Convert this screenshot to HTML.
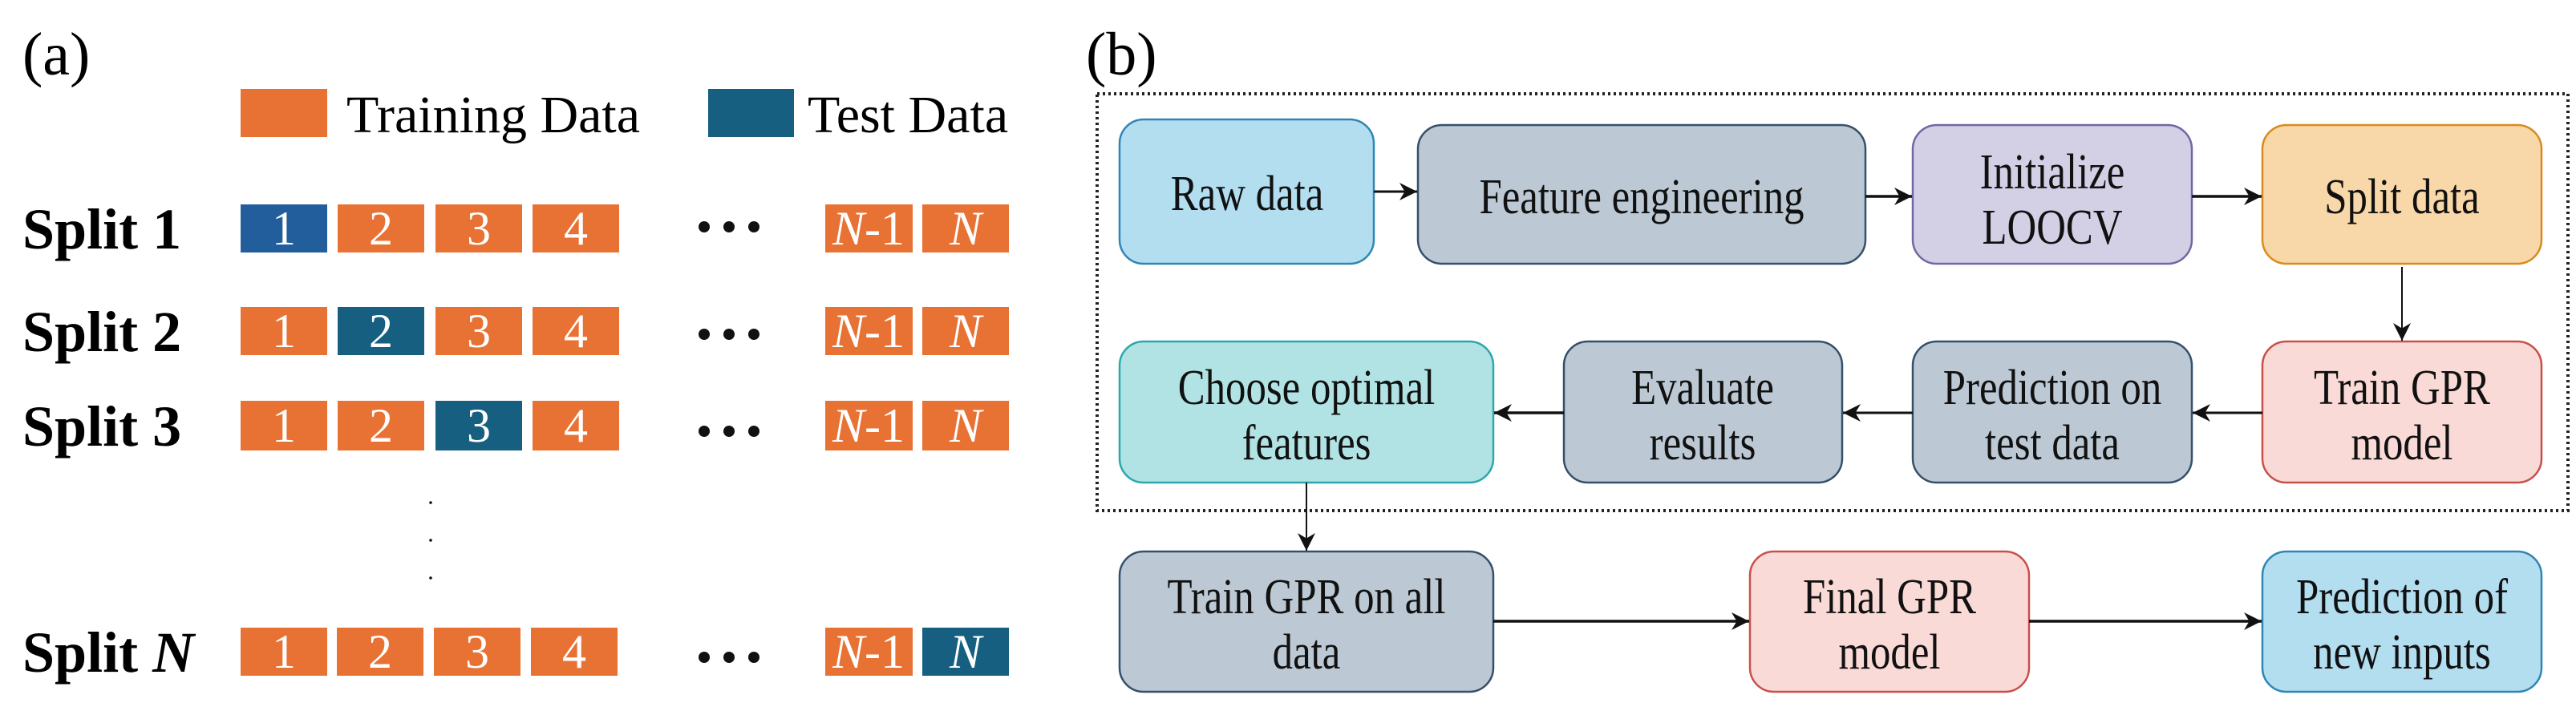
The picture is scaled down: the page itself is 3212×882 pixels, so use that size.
<!DOCTYPE html>
<html><head><style>html,body{margin:0;padding:0;background:#fff}svg{display:block}
svg text{font-family:"Liberation Serif","Times New Roman",serif}</style></head>
<body>
<svg width="3212" height="882" viewBox="0 0 3212 882" xmlns="http://www.w3.org/2000/svg">
<defs>
<marker id="a2" viewBox="0 0 10 10" refX="10" refY="5" markerWidth="22" markerHeight="22" markerUnits="userSpaceOnUse" orient="auto"><path d="M0,0 L10,5 L0,10 L3,5 z" fill="#111"/></marker>
</defs>
<text x="28" y="93" font-size="76">(a)</text>
<rect x="300" y="111" width="108" height="60" fill="#E87234"/>
<text x="432" y="165" font-size="66">Training Data</text>
<rect x="883" y="111" width="107" height="60" fill="#175F80"/>
<text x="1007" y="165" font-size="66">Test Data</text>
<g font-weight="bold" font-size="72">
<text x="28" y="310">Split 1</text>
<text x="28" y="438">Split 2</text>
<text x="28" y="556">Split 3</text>
<text x="28" y="838">Split <tspan font-style="italic">N</tspan></text>
</g>
<g font-size="60" fill="#fff" text-anchor="middle">
<rect x="300" y="255" width="108" height="60" fill="#235E9C"/><text x="354" y="305">1</text>
<rect x="421" y="255" width="108" height="60" fill="#E87234"/><text x="475" y="305">2</text>
<rect x="543" y="255" width="108" height="60" fill="#E87234"/><text x="597" y="305">3</text>
<rect x="664" y="255" width="108" height="60" fill="#E87234"/><text x="718" y="305">4</text>
<rect x="1029" y="255" width="109" height="60" fill="#E87234"/><text x="1083" y="305"><tspan font-style="italic">N</tspan>-1</text>
<rect x="1150" y="255" width="108" height="60" fill="#E87234"/><text x="1204" y="305" font-style="italic">N</text>
<rect x="300" y="383" width="108" height="60" fill="#E87234"/><text x="354" y="433">1</text>
<rect x="421" y="383" width="108" height="60" fill="#175F80"/><text x="475" y="433">2</text>
<rect x="543" y="383" width="108" height="60" fill="#E87234"/><text x="597" y="433">3</text>
<rect x="664" y="383" width="108" height="60" fill="#E87234"/><text x="718" y="433">4</text>
<rect x="1029" y="383" width="109" height="60" fill="#E87234"/><text x="1083" y="433"><tspan font-style="italic">N</tspan>-1</text>
<rect x="1150" y="383" width="108" height="60" fill="#E87234"/><text x="1204" y="433" font-style="italic">N</text>
<rect x="300" y="500" width="108" height="62" fill="#E87234"/><text x="354" y="551">1</text>
<rect x="421" y="500" width="108" height="62" fill="#E87234"/><text x="475" y="551">2</text>
<rect x="543" y="500" width="108" height="62" fill="#175F80"/><text x="597" y="551">3</text>
<rect x="664" y="500" width="108" height="62" fill="#E87234"/><text x="718" y="551">4</text>
<rect x="1029" y="500" width="109" height="62" fill="#E87234"/><text x="1083" y="551"><tspan font-style="italic">N</tspan>-1</text>
<rect x="1150" y="500" width="108" height="62" fill="#E87234"/><text x="1204" y="551" font-style="italic">N</text>
<rect x="300" y="783" width="108" height="60" fill="#E87234"/><text x="354" y="833">1</text>
<rect x="420" y="783" width="108" height="60" fill="#E87234"/><text x="474" y="833">2</text>
<rect x="541" y="783" width="108" height="60" fill="#E87234"/><text x="595" y="833">3</text>
<rect x="662" y="783" width="108" height="60" fill="#E87234"/><text x="716" y="833">4</text>
<rect x="1029" y="783" width="109" height="60" fill="#E87234"/><text x="1083" y="833"><tspan font-style="italic">N</tspan>-1</text>
<rect x="1150" y="783" width="108" height="60" fill="#175F80"/><text x="1204" y="833" font-style="italic">N</text>
</g>
<g fill="#111">
<circle cx="878" cy="283" r="7"/><circle cx="909" cy="283" r="7"/><circle cx="940" cy="283" r="7"/>
<circle cx="878" cy="417" r="7"/><circle cx="909" cy="417" r="7"/><circle cx="940" cy="417" r="7"/>
<circle cx="878" cy="538" r="7"/><circle cx="909" cy="538" r="7"/><circle cx="940" cy="538" r="7"/>
<circle cx="878" cy="820" r="7"/><circle cx="909" cy="820" r="7"/><circle cx="940" cy="820" r="7"/>
<circle cx="537" cy="627" r="1.8"/><circle cx="537" cy="674" r="1.8"/><circle cx="537" cy="721" r="1.8"/>
</g>
<text x="1354" y="93" font-size="76">(b)</text>
<rect x="1368" y="117" width="1834" height="520" fill="none" stroke="#222" stroke-width="4" stroke-dasharray="3,4"/>
<g stroke-width="2.5">
<rect x="1396" y="149" width="317" height="180" rx="30" fill="#B3DEF0" stroke="#2F86B5"/>
<rect x="1768" y="156" width="558" height="173" rx="30" fill="#BCC9D4" stroke="#34506A"/>
<rect x="2385" y="156" width="348" height="173" rx="30" fill="#D3D0E6" stroke="#7565A3"/>
<rect x="2821" y="156" width="348" height="173" rx="30" fill="#F8D8A8" stroke="#D98A1E"/>
<rect x="1396" y="426" width="466" height="176" rx="30" fill="#B1E3E4" stroke="#2AA8AE"/>
<rect x="1950" y="426" width="347" height="176" rx="30" fill="#BCC9D4" stroke="#34506A"/>
<rect x="2385" y="426" width="348" height="176" rx="30" fill="#BCC9D4" stroke="#34506A"/>
<rect x="2821" y="426" width="348" height="176" rx="30" fill="#F9DAD7" stroke="#C9504A"/>
<rect x="1396" y="688" width="466" height="175" rx="30" fill="#BCC9D4" stroke="#34506A"/>
<rect x="2182" y="688" width="348" height="175" rx="30" fill="#F9DAD7" stroke="#C9504A"/>
<rect x="2821" y="688" width="348" height="175" rx="30" fill="#B3DEF0" stroke="#2F86B5"/>
</g>
<g stroke="#111" fill="none">
<line x1="1713" y1="239" x2="1767" y2="239" stroke-width="3" marker-end="url(#a2)"/>
<line x1="2326" y1="245" x2="2384" y2="245" stroke-width="3.5" marker-end="url(#a2)"/>
<line x1="2733" y1="245" x2="2820" y2="245" stroke-width="3.5" marker-end="url(#a2)"/>
<line x1="2995" y1="333" x2="2995" y2="425" stroke-width="2" marker-end="url(#a2)"/>
<line x1="2821" y1="515" x2="2734" y2="515" stroke-width="3" marker-end="url(#a2)"/>
<line x1="2385" y1="515" x2="2298" y2="515" stroke-width="3" marker-end="url(#a2)"/>
<line x1="1950" y1="515" x2="1863" y2="515" stroke-width="3.5" marker-end="url(#a2)"/>
<line x1="1629" y1="602" x2="1629" y2="687" stroke-width="2" marker-end="url(#a2)"/>
<line x1="1862" y1="775" x2="2181" y2="775" stroke-width="3.5" marker-end="url(#a2)"/>
<line x1="2530" y1="775" x2="2820" y2="775" stroke-width="3.5" marker-end="url(#a2)"/>
</g>
<g font-size="62" text-anchor="middle" fill="#111">
<text transform="translate(1555,262) scale(0.82,1)">Raw data</text>
<text transform="translate(2047,266) scale(0.82,1)">Feature engineering</text>
<text transform="translate(2559,235) scale(0.82,1)">Initialize</text>
<text transform="translate(2559,304) scale(0.82,1)">LOOCV</text>
<text transform="translate(2995,266) scale(0.82,1)">Split data</text>
<text transform="translate(1629,504) scale(0.82,1)">Choose optimal</text>
<text transform="translate(1629,573) scale(0.82,1)">features</text>
<text transform="translate(2123,504) scale(0.82,1)">Evaluate</text>
<text transform="translate(2123,573) scale(0.82,1)">results</text>
<text transform="translate(2559,504) scale(0.82,1)">Prediction on</text>
<text transform="translate(2559,573) scale(0.82,1)">test data</text>
<text transform="translate(2995,504) scale(0.82,1)">Train GPR</text>
<text transform="translate(2995,573) scale(0.82,1)">model</text>
<text transform="translate(1629,765) scale(0.82,1)">Train GPR on all</text>
<text transform="translate(1629,834) scale(0.82,1)">data</text>
<text transform="translate(2356,765) scale(0.82,1)">Final GPR</text>
<text transform="translate(2356,834) scale(0.82,1)">model</text>
<text transform="translate(2995,765) scale(0.82,1)">Prediction of</text>
<text transform="translate(2995,834) scale(0.82,1)">new inputs</text>
</g>
</svg>
</body></html>
